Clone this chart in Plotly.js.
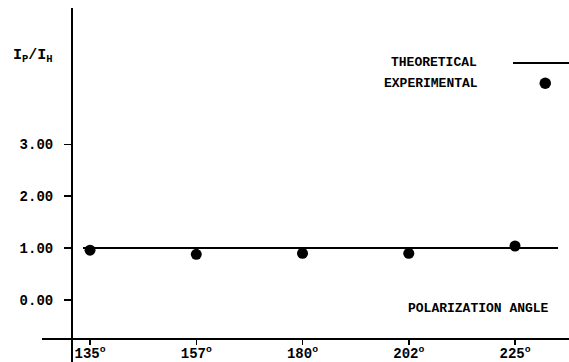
<!DOCTYPE html>
<html>
<head>
<meta charset="utf-8">
<script src="https://cdn.plot.ly/plotly-3.0.1.min.js"></script>
<style>
  html, body { margin: 0; padding: 0; background: #fff; }
  #chart { width: 569px; height: 362px; }
</style>
</head>
<body>
<div id="chart"></div>
<script>
// Data
const angles = ['135', '157', '180', '202', '225'];
const angleLabels = ['135<sup>o</sup>', '157<sup>o</sup>', '180<sup>o</sup>', '202<sup>o</sup>', '225<sup>o</sup>'];
const experimental = [0.96, 0.88, 0.90, 0.90, 1.04];
const theoreticalValue = [1.0];
const yTickVals = [0, 1, 2, 3];
const yTickText = ['0.00', '1.00', '2.00', '3.00'];

const FONT = '"Liberation Mono", "DejaVu Sans Mono", monospace';
const W = 569, H = 362, ML = 42, MT = 8;
const PW = W - ML, PH = H - MT;
const px = x => (x - ML) / PW;          // pixel -> paper x
const py = y => (H - y) / PH;           // pixel -> paper y

const traces = [{
  x: angles,
  y: experimental,
  type: 'scatter',
  mode: 'markers',
  name: 'EXPERIMENTAL',
  marker: { color: '#000', size: 11 },
  cliponaxis: false,
  showlegend: false
}];

const layout = {
  width: W, height: H,
  margin: { l: ML, r: 0, t: MT, b: 0, pad: 0 },
  paper_bgcolor: '#fff',
  plot_bgcolor: 'rgba(0,0,0,0)',
  showlegend: false,
  font: { family: FONT, color: '#000', size: 13, weight: 'bold' },
  xaxis: {
    type: 'category',
    range: [-0.452, 4.508],
    anchor: 'free',
    position: py(338.5),
    showline: true, linecolor: '#000', linewidth: 2,
    showgrid: false, zeroline: false,
    ticks: 'outside', ticklen: 5, tickwidth: 1.5, tickcolor: '#000',
    tickvals: angles, ticktext: angleLabels,
    ticklabelstandoff: -3,
    tickfont: { family: FONT, size: 14, color: '#000', weight: 'bold' },
    fixedrange: true
  },
  yaxis: {
    range: [-1.195, 5.626],
    anchor: 'free',
    position: px(72),
    showline: true, linecolor: '#000', linewidth: 2,
    showgrid: false, zeroline: false,
    ticks: 'outside', ticklen: 7, tickwidth: 1.5, tickcolor: '#000',
    tickvals: yTickVals, ticktext: yTickText,
    ticklabelstandoff: 8,
    tickfont: { family: FONT, size: 14, color: '#000', weight: 'bold' },
    fixedrange: true
  },
  shapes: [
    // theoretical line
    { type: 'line', xref: 'paper', yref: 'y',
      x0: px(83), x1: px(558), y0: theoreticalValue[0], y1: theoreticalValue[0],
      line: { color: '#000', width: 2 } },
    // legend key: line
    { type: 'line', xref: 'paper', yref: 'paper',
      x0: px(513), x1: 1.0, y0: py(63), y1: py(63),
      line: { color: '#000', width: 2 } },
    // legend key: dot
    { type: 'circle', xref: 'paper', yref: 'paper',
      x0: px(539.5), x1: px(551), y0: py(89), y1: py(77.5),
      fillcolor: '#000', line: { color: '#000', width: 0 } }
  ],
  annotations: [
    { xref: 'paper', yref: 'paper', x: px(479), y: py(63), xanchor: 'right', yanchor: 'middle',
      text: 'THEORETICAL', showarrow: false,
      font: { family: FONT, size: 13, color: '#000', weight: 'bold' } },
    { xref: 'paper', yref: 'paper', x: px(480), y: py(83), xanchor: 'right', yanchor: 'middle',
      text: 'EXPERIMENTAL', showarrow: false,
      font: { family: FONT, size: 13, color: '#000', weight: 'bold' } },
    { xref: 'paper', yref: 'paper', x: px(11), y: py(56), xanchor: 'left', yanchor: 'middle',
      text: 'I<sub>P</sub>/I<sub>H</sub>', showarrow: false,
      font: { family: FONT, size: 15, color: '#000', weight: 'bold' } },
    { xref: 'paper', yref: 'paper', x: px(551), y: py(308), xanchor: 'right', yanchor: 'middle',
      text: 'POLARIZATION ANGLE', showarrow: false,
      font: { family: FONT, size: 13, color: '#000', weight: 'bold' } }
  ]
};

Plotly.newPlot('chart', traces, layout, { staticPlot: true, displayModeBar: false });
</script>
</body>
</html>
